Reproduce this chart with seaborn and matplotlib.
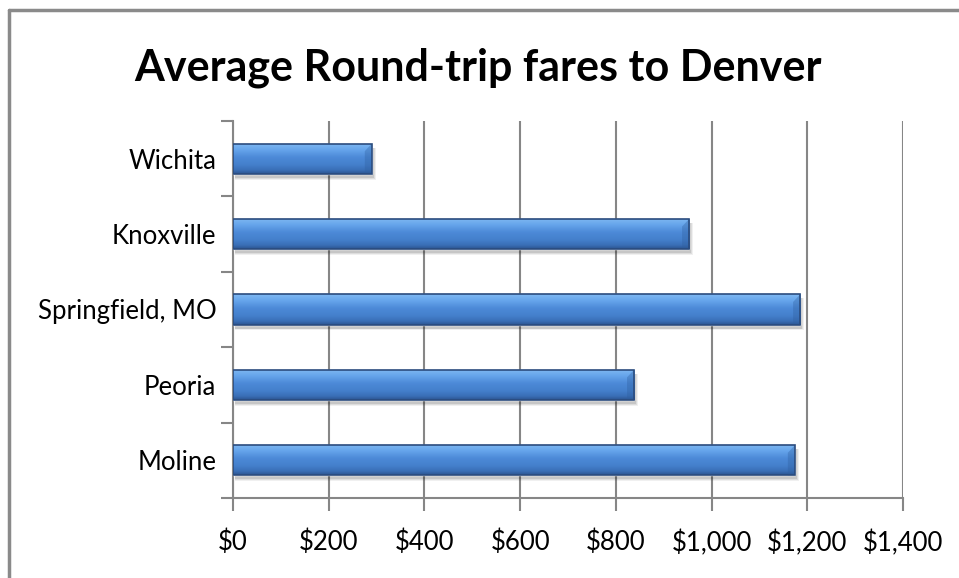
import matplotlib
matplotlib.use("Agg")
import matplotlib.pyplot as plt
import matplotlib.transforms as mtransforms
from matplotlib.colors import LinearSegmentedColormap
from matplotlib.lines import Line2D
from matplotlib.patches import Rectangle, Polygon
import numpy as np
import pandas as pd
import seaborn as sns

# Chart data (top to bottom as shown)
cities = ["Wichita", "Knoxville", "Springfield, MO", "Peoria", "Moline"]
fares = [290, 953, 1185, 838, 1174]
x_ticks = [0, 200, 400, 600, 800, 1000, 1200, 1400]
x_labels = ["$0", "$200", "$400", "$600", "$800", "$1,000", "$1,200", "$1,400"]

df = pd.DataFrame({"city": cities, "fare": fares})

sns.set_style("white")
plt.rcParams["font.family"] = ["Lato", "DejaVu Sans"]

grid_col = "#868686"

fig = plt.figure(figsize=(9.59, 5.78), dpi=100)
ax = fig.add_axes([233 / 959, 80 / 578, 670 / 959, 377 / 578])

sns.barplot(data=df, x="fare", y="city", order=cities, orient="h",
            color="#4a87d4", width=0.4, ax=ax, zorder=3)

# Excel-style bevelled gradient on each bar
bar_cmap = LinearSegmentedColormap.from_list(
    "bevel", [(0.0, "#7fb8f2"), (0.2, "#67a6ec"), (0.45, "#4d8ad8"),
              (0.7, "#4480cc"), (0.88, "#3a6fb7"), (1.0, "#2c5590")])
grad = np.linspace(0, 1, 64).reshape(-1, 1)
shadow_tr = mtransforms.offset_copy(ax.transData, fig=fig, x=2, y=-4, units="dots")
px_x = 1400 / 670
for p in list(ax.patches):
    x0, y0 = p.get_x(), p.get_y()
    w, h = p.get_width(), p.get_height()
    for k, a in enumerate([0.06, 0.08, 0.1]):
        ax.add_patch(Rectangle((x0, y0), w + (2 - k) * px_x, h + (2 - k) * 0.012,
                               transform=shadow_tr, facecolor="#000000",
                               alpha=a, lw=0, zorder=2))
    im = ax.imshow(grad, cmap=bar_cmap, aspect="auto", origin="upper",
                   extent=(x0, x0 + w, y0 + h, y0), zorder=4, interpolation="bicubic")
    im.set_clip_path(p)
    # darker bevel at the right end
    bev = 7 * px_x
    ax.add_patch(Polygon([(x0 + w - bev, y0 + h * 0.25), (x0 + w, y0),
                          (x0 + w, y0 + h), (x0 + w - bev, y0 + h)],
                         closed=True, facecolor="#2f5f9f", alpha=0.35, lw=0, zorder=4.5))
    ax.add_patch(Rectangle((x0, y0), w, h, facecolor="none",
                           edgecolor="#2b4c7e", lw=1.2, zorder=5))

ax.set_xlim(0, 1400)
ax.set_ylim(len(cities) - 0.5, -0.5)
ax.set_xticks(x_ticks)
ax.set_xticklabels(x_labels)
ax.set_yticks(range(len(cities)))
ax.set_yticklabels(cities)
ax.set_yticks(np.arange(-0.5, len(cities), 1.0), minor=True)
ax.set_xlabel("")
ax.set_ylabel("")

ax.xaxis.grid(True, color=grid_col, lw=1.5, zorder=0)
ax.yaxis.grid(False)
ax.set_axisbelow(True)

for side in ["top", "right"]:
    ax.spines[side].set_visible(False)
for side in ["left", "bottom"]:
    ax.spines[side].set_color(grid_col)
    ax.spines[side].set_linewidth(1.5)

ax.tick_params(axis="x", which="major", length=9, width=1.5, color=grid_col,
               pad=14, labelsize=18.5, labelcolor="black", bottom=True)
ax.tick_params(axis="y", which="major", length=0, pad=12, labelsize=18.5,
               labelcolor="black")
ax.tick_params(axis="y", which="minor", length=9, width=1.5, color=grid_col, left=True)

fig.text(0.4985, 0.882, "Average Round-trip fares to Denver", ha="center",
         va="center", fontsize=31, fontweight="bold", color="black")

# chart frame (top and left edges visible)
fig.add_artist(Line2D([9 / 959, 1.0], [1 - 10 / 578, 1 - 10 / 578],
                      color="#8a8a8a", lw=2.5, transform=fig.transFigure))
fig.add_artist(Line2D([9 / 959, 9 / 959], [0.0, 1 - 10 / 578],
                      color="#8a8a8a", lw=2.5, transform=fig.transFigure))

fig.savefig("out.png", dpi=100, facecolor="white")
